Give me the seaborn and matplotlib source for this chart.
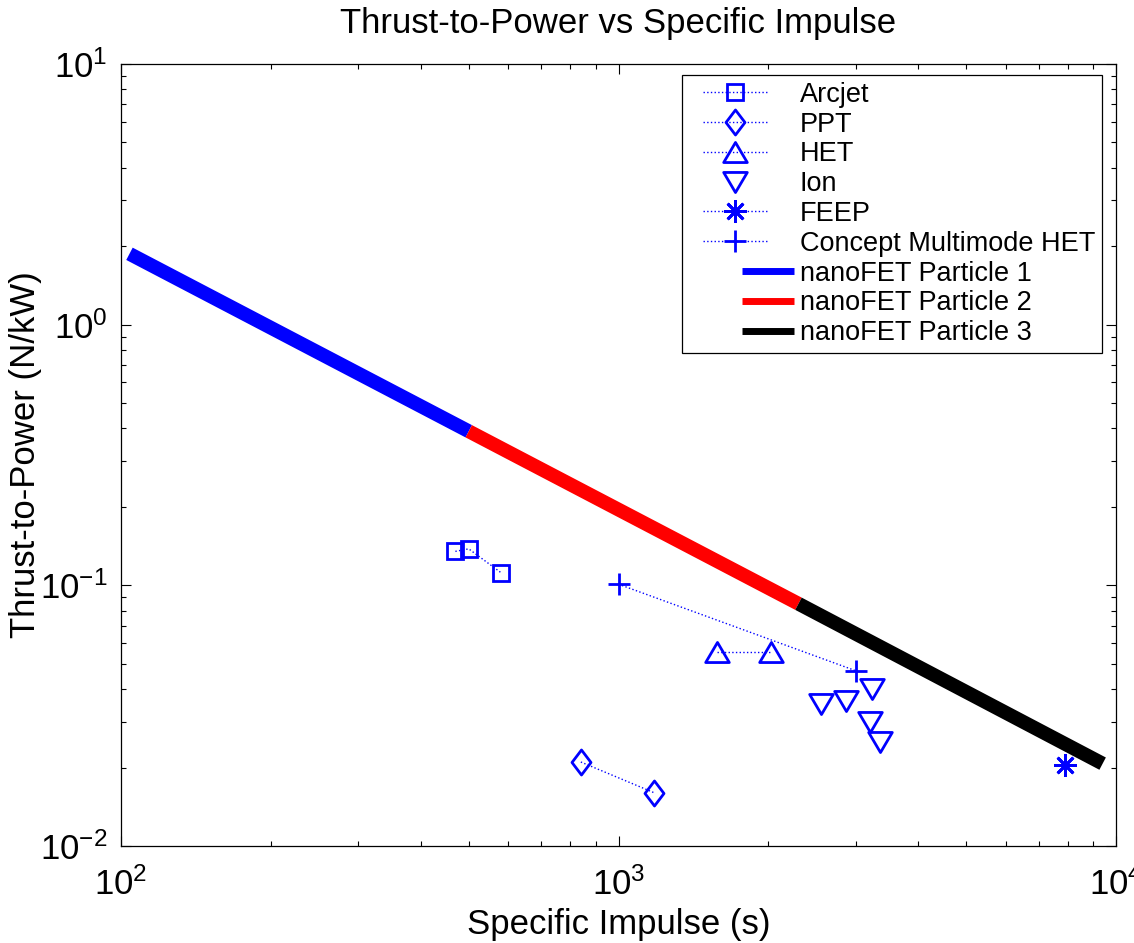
import numpy as np
import matplotlib
matplotlib.use('Agg')
import matplotlib.pyplot as plt
from matplotlib.path import Path
from matplotlib.legend_handler import HandlerLine2D
from matplotlib.ticker import LogLocator, NullFormatter
import seaborn as sns

sns.set_theme(style='white')
plt.rcParams['font.family'] = ['Liberation Sans', 'DejaVu Sans']
plt.rcParams['mathtext.fontset'] = 'custom'
plt.rcParams['mathtext.rm'] = 'Liberation Sans'
plt.rcParams['axes.unicode_minus'] = False
for k in ['text.color', 'axes.labelcolor', 'xtick.color', 'ytick.color', 'axes.edgecolor']:
    plt.rcParams[k] = 'black'

# values (specific impulse in s, thrust-to-power in N/kW)
arcjet_isp = [470, 500, 580]
arcjet_tp = [0.135, 0.138, 0.112]
ppt_isp = [840, 1180]
ppt_tp = [0.021, 0.016]
het_isp = [1580, 2030]
het_tp = [0.0555, 0.0555]
ion_isp = [2550, 2870, 3230, 3200, 3350]
ion_tp = [0.035, 0.036, 0.040, 0.030, 0.025]
feep_isp = [7900]
feep_tp = [0.0205]
concept_isp = [1000, 3000]
concept_tp = [0.101, 0.047]

nano1_isp = [104, 500]
nano1_tp = [1.87, 0.39]
nano2_isp = [500, 2300]
nano2_tp = [0.39, 0.085]
nano3_isp = [2300, 9400]
nano3_tp = [0.085, 0.0207]

# marker shapes close to the MATLAB ones
square = 's'
diamond = Path([(0, 1), (0.76, 0), (0, -1), (-0.76, 0), (0, 1)], closed=True)
tri_up = Path([(0, 0.85), (-1, -0.85), (1, -0.85), (0, 0.85)], closed=True)
tri_down = Path([(0, -0.85), (-1, 0.85), (1, 0.85), (0, -0.85)], closed=True)
asterisk = (8, 2, 0)
plus = '+'


class ShortLine(HandlerLine2D):
    """Legend handle drawn over only part of the handle box."""
    def __init__(self, start, stop, lw=None, **kw):
        super().__init__(**kw)
        self.start, self.stop, self.lw = start, stop, lw

    def get_xdata(self, legend, xdescent, ydescent, width, height, fontsize):
        x = np.array([self.start, self.stop]) * width - xdescent
        return x, x

    def create_artists(self, legend, orig_handle, xdescent, ydescent,
                       width, height, fontsize, trans):
        arts = super().create_artists(legend, orig_handle, xdescent, ydescent,
                                      width, height, fontsize, trans)
        if self.lw is not None:
            for a in arts:
                a.set_linewidth(self.lw)
        return arts


fig = plt.figure(figsize=(11.34, 9.43), dpi=100)
ax = fig.add_axes([121 / 1134, 97 / 943, 995 / 1134, 782 / 943])
ax.set_xscale('log')
ax.set_yscale('log')

blue = '#0000ff'
mk = dict(color=blue, mfc='none', mec=blue, mew=2, lw=1, estimator=None,
          sort=False, ax=ax, legend=False)

series = [
    ('Arcjet', arcjet_isp, arcjet_tp, square, 12, ':'),
    ('PPT', ppt_isp, ppt_tp, diamond, 18, ':'),
    ('HET', het_isp, het_tp, tri_up, 17, ':'),
    ('Ion', ion_isp, ion_tp, tri_down, 17, 'none'),
    ('FEEP', feep_isp, feep_tp, asterisk, 16, ':'),
    ('Concept Multimode HET', concept_isp, concept_tp, plus, 16, ':'),
]
for name, xs, ys, m, ms, ls in series:
    sns.lineplot(x=xs, y=ys, marker=m, markersize=ms, linestyle=ls,
                 label=name, **mk)

nano = [
    ('nanoFET Particle 1', nano1_isp, nano1_tp, '#0000ff'),
    ('nanoFET Particle 2', nano2_isp, nano2_tp, '#ff0000'),
    ('nanoFET Particle 3', nano3_isp, nano3_tp, '#000000'),
]
for name, xs, ys, c in nano:
    sns.lineplot(x=xs, y=ys, color=c, lw=10, solid_capstyle='butt',
                 estimator=None, sort=False, ax=ax, legend=False, label=name)

ax.set_xlim(100, 1e4)
ax.set_ylim(1e-2, 1e1)
ax.xaxis.set_minor_locator(LogLocator(base=10, subs=np.arange(2, 10)))
ax.yaxis.set_minor_locator(LogLocator(base=10, subs=np.arange(2, 10)))
ax.xaxis.set_minor_formatter(NullFormatter())
ax.yaxis.set_minor_formatter(NullFormatter())
ax.tick_params(which='both', direction='in', top=True, right=True,
               bottom=True, left=True, color='black', width=0.8)
ax.tick_params(which='major', length=7, labelsize=25)
ax.tick_params(which='minor', length=3.5)
ax.tick_params(axis='x', which='major', pad=15)
ax.tick_params(axis='y', which='major', pad=10)
for s in ax.spines.values():
    s.set_color('black')
    s.set_linewidth(0.9)

ax.set_title('Thrust-to-Power vs Specific Impulse', fontsize=25, pad=22)
ax.set_xlabel('Specific Impulse (s)', fontsize=25, labelpad=5)
ax.set_ylabel('Thrust-to-Power (N/kW)', fontsize=25, labelpad=-2)

handles, labels = ax.get_legend_handles_labels()
hmap = {}
for h, lab in zip(handles, labels):
    if lab.startswith('nanoFET'):
        hmap[h] = ShortLine(0.5, 1.0, lw=5)
    else:
        hmap[h] = ShortLine(0.13, 0.74)
leg = ax.legend(handles, labels, handler_map=hmap, loc='upper right',
                bbox_to_anchor=(1102 / 1134, 868 / 943),
                bbox_transform=fig.transFigure, fontsize=19.5, frameon=True,
                fancybox=False, edgecolor='black', framealpha=1,
                borderpad=0.25, labelspacing=0.14, handlelength=3.9,
                handletextpad=0.2, borderaxespad=0)
leg.get_frame().set_linewidth(0.9)

fig.savefig('out.png', dpi=100)
